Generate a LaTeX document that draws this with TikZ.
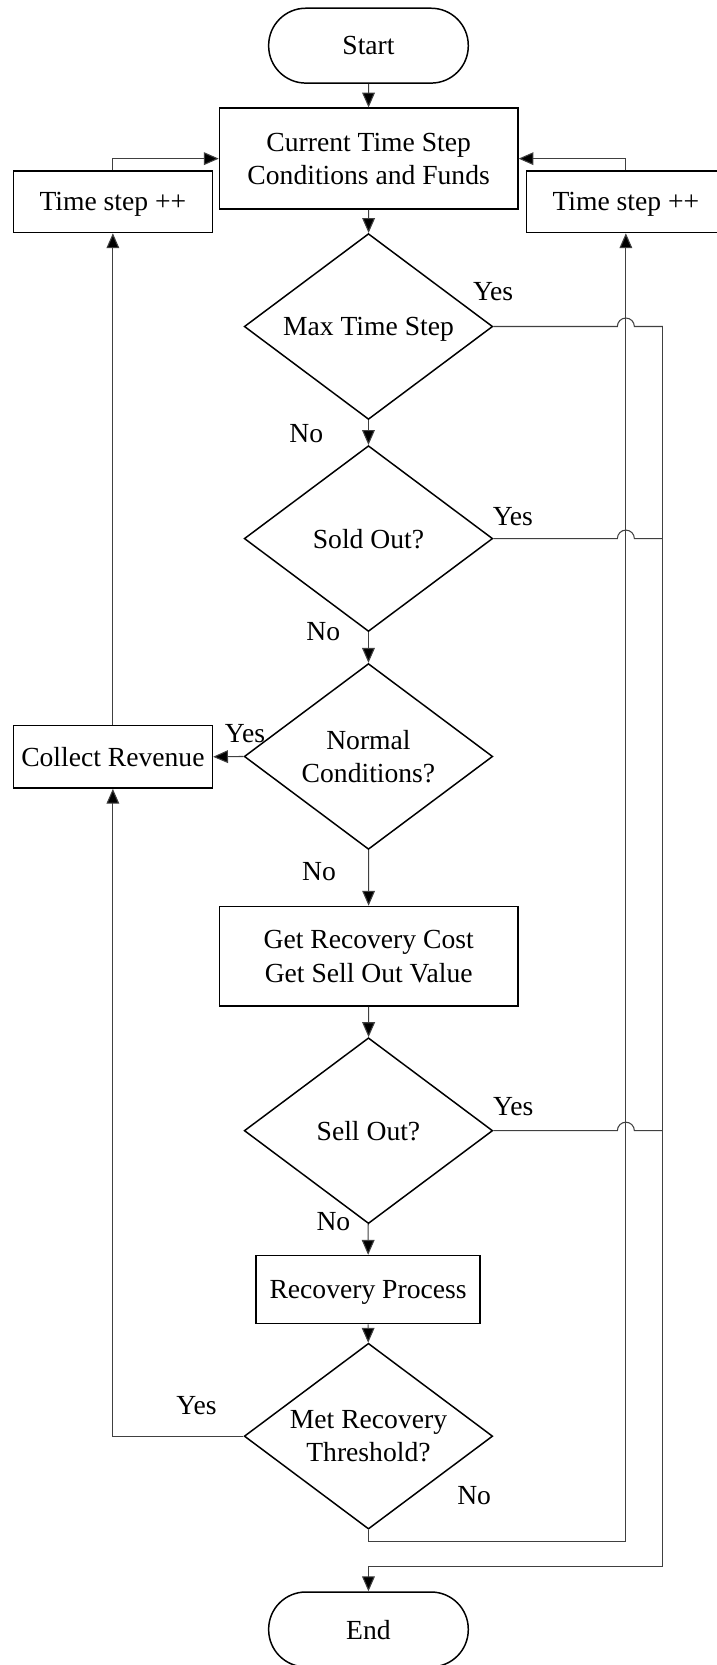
\documentclass[tikz,border=0pt]{standalone}
\usepackage{fontspec}
\setmainfont{Liberation Serif}
\usetikzlibrary{shapes.geometric,arrows.meta,calc}

\tikzset{
  base/.style={draw=black, line width=1.4pt, inner sep=0pt, align=center,
    text depth=0pt, font=\fontsize{26}{31.4}\selectfont},
  terminal/.style={base, rectangle, rounded corners=35pt,
    minimum width=188pt, minimum height=70.5pt},
  procbox/.style={base, rectangle},
  decision/.style={base, diamond, aspect=1.34,
    minimum width=234pt, minimum height=175pt},
  lbl/.style={inner sep=0pt, font=\fontsize{26}{31.4}\selectfont},
  conn/.style={draw=black!75, line width=1pt},
  arr/.style={conn, -{Triangle[length=14pt, width=12pt, fill=black]}}
}

\begin{document}
\begin{tikzpicture}[x=1pt, y=1pt]
  \useasboundingbox (0,0) rectangle (675,-1568);

  % main column
  \node[terminal] (start) at (347,-43) {Start};
  \node[procbox, minimum width=281pt, minimum height=95pt] (cur) at (347.2,-149.4)
    {Current Time Step\\Conditions and Funds};
  \node[decision] (max) at (347,-307.5) {Max Time Step};
  \node[decision] (sold) at (347,-507.2) {Sold Out?};
  \node[decision] (normal) at (347,-712.4) {Normal\\Conditions?};
  \node[procbox, minimum width=281pt, minimum height=94pt] (getrec) at (347.2,-900.6)
    {Get Recovery Cost\\Get Sell Out Value};
  \node[decision] (sell) at (347,-1064.8) {Sell Out?};
  \node[procbox, minimum width=211pt, minimum height=64pt] (rproc) at (346.6,-1214.4)
    {Recovery Process};
  \node[decision] (met) at (347,-1352.5) {Met Recovery\\Threshold?};
  \node[terminal] (end) at (347,-1534.5) {End};

  % side boxes
  \node[procbox, minimum width=187.4pt, minimum height=58pt] (tsl) at (106.3,-190) {Time step ++};
  \node[procbox, minimum width=187.4pt, minimum height=58pt] (tsr) at (589.4,-190) {Time step ++};
  \node[procbox, minimum width=187.4pt, minimum height=59pt] (coll) at (106.3,-712.7) {Collect Revenue};

  % branch labels
  \node[lbl] (y1) at (464.4,-274.6) {Yes};
  \node[lbl] (n1) at (288.5,-408) {No};
  \node[lbl] (y2) at (483,-486.4) {Yes};
  \node[lbl] (n2) at (304.5,-594.7) {No};
  \node[lbl] (y3) at (230.8,-690.4) {Yes};
  \node[lbl] (n3) at (300.5,-820.7) {No};
  \node[lbl] (y4) at (483.3,-1041.8) {Yes};
  \node[lbl] (n4) at (314,-1150) {No};
  \node[lbl] (y5) at (185,-1323.6) {Yes};
  \node[lbl] (n5) at (446.5,-1408.6) {No};

  % routing points
  \coordinate (bus) at (624.2,-1475);
  \coordinate (loop) at (347,-1452);

  % straight flow
  \draw[arr] (start) -- (cur);
  \draw[arr] (cur) -- (max);
  \draw[arr] (max) -- (sold);
  \draw[arr] (sold) -- (normal);
  \draw[arr] (normal) -- (getrec);
  \draw[arr] (getrec) -- (sell);
  \draw[arr] (sell) -- (rproc);
  \draw[arr] (rproc) -- (met);

  % normal conditions: collect revenue and advance the time step
  \draw[arr] (normal.west) -- (coll.east);
  \draw[arr] (coll.north) -- (tsl.south);
  \draw[arr] (tsl.north) |- (cur.west);
  \draw[arr] (tsr.north) |- (cur.east);

  % recovery threshold branches
  \draw[arr] (met.west) -| (coll.south);
  \draw[arr] (met.south) -- (loop) -| (tsr.south);

  % "Yes" exits jump over the return line and join the bus to End
  \foreach \d in {max, sold, sell}{
    \draw[conn] (\d.east) -- ($(\d.east -| tsr.south) + (-8,0)$)
      arc[start angle=180, end angle=0, radius=8] -- (\d.east -| bus);
  }
  \draw[arr] (max.east -| bus) -- (bus) -| (end.north);
\end{tikzpicture}
\end{document}
